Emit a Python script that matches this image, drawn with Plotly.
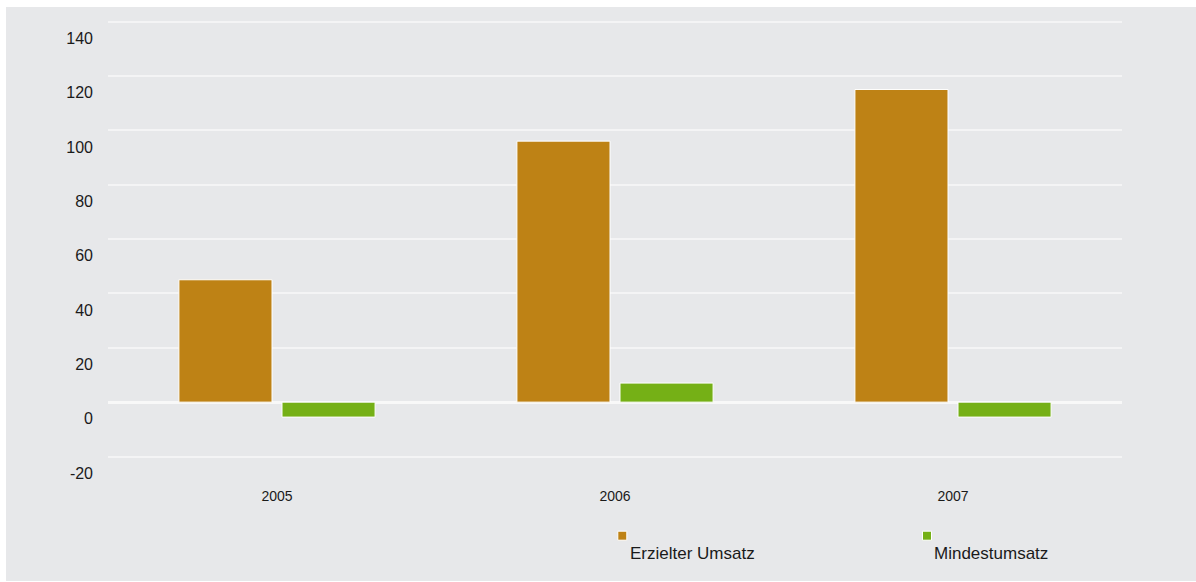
import plotly.graph_objects as go

# Data
years = ["2005", "2006", "2007"]
erzielter_umsatz = [45, 96, 115]
mindestumsatz = [-5.5, 7, -5.5]
series_names = ["Erzielter Umsatz", "Mindestumsatz"]
y_ticks = [-20, 0, 20, 40, 60, 80, 100, 120, 140]

# Styling
W, H = 1196, 582
ML, MR, MT, MB = 108, 74, 16, 100
BG = "#e7e8ea"
ORANGE = "#be8215"
GREEN = "#75b016"
FONT = "Liberation Sans, Arial, sans-serif"

plot_w = W - ML - MR
plot_h = H - MT - MB
px_per_unit = 435 / 160
y_top = 140 + 5.5 / px_per_unit
y_bot = y_top - plot_h / px_per_unit
label_shift = 16.7 / px_per_unit  # value labels sit just below their grid lines


def px_to_paper(px, py):
    return (px - ML) / plot_w, (H - MB - py) / plot_h


fig = go.Figure()
fig.add_trace(go.Bar(x=years, y=erzielter_umsatz, name=series_names[0],
                     marker=dict(color=ORANGE, line=dict(color="white", width=1))))
fig.add_trace(go.Bar(x=years, y=mindestumsatz, name=series_names[1],
                     marker=dict(color=GREEN, line=dict(color="white", width=1))))

# Invisible helper trace so the label axis is drawn
fig.add_trace(go.Scatter(x=[years[0]], y=[0], yaxis="y2", mode="markers",
                         marker=dict(opacity=0), showlegend=False, hoverinfo="skip"))

# Gray panel behind the chart
x0, y0 = px_to_paper(6, 581)
x1, y1 = px_to_paper(1196, 7)
shapes = [dict(type="rect", xref="paper", yref="paper", x0=x0, x1=x1, y0=y0, y1=y1,
               fillcolor=BG, line=dict(width=0), layer="below")]

# Legend: small square marker with the series name underneath
annotations = []
for name, color, (sx, sy), tx in [
    (series_names[0], ORANGE, (622.3, 535.7), 627.5),
    (series_names[1], GREEN, (927, 535.7), 932),
]:
    a0, b0 = px_to_paper(sx - 4.5, sy + 4.5)
    a1, b1 = px_to_paper(sx + 4.5, sy - 4.5)
    shapes.append(dict(type="rect", xref="paper", yref="paper", x0=a0, x1=a1, y0=b0, y1=b1,
                       fillcolor=color, line=dict(color="white", width=1), layer="above"))
    ax, ay = px_to_paper(tx, 553)
    annotations.append(dict(xref="paper", yref="paper", x=ax, y=ay, text=name,
                            showarrow=False, xanchor="left", yanchor="middle",
                            font=dict(family=FONT, size=17, color="#1a1a1a")))

fig.update_layout(
    width=W, height=H,
    margin=dict(l=ML, r=MR, t=MT, b=MB, pad=0),
    paper_bgcolor="white",
    plot_bgcolor="rgba(0,0,0,0)",
    barmode="group",
    bargap=0.39,
    bargroupgap=0.097,
    showlegend=False,
    font=dict(family=FONT, color="#1a1a1a"),
    xaxis=dict(
        type="category",
        showgrid=False, zeroline=False, showline=False,
        ticks="", tickfont=dict(size=14, family=FONT, color="#1a1a1a"),
        ticklabelstandoff=4,
    ),
    yaxis=dict(
        range=[y_bot, y_top],
        tickvals=y_ticks,
        showticklabels=False,
        showgrid=True, gridcolor="#f4f4f5", gridwidth=2,
        zeroline=True, zerolinecolor="#f8f8f8", zerolinewidth=3,
        showline=False, ticks="",
    ),
    yaxis2=dict(
        overlaying="y", side="left",
        range=[y_bot + label_shift, y_top + label_shift],
        tickvals=y_ticks, ticktext=[str(v) for v in y_ticks],
        showgrid=False, zeroline=False, showline=False, ticks="",
        tickfont=dict(size=16, family=FONT, color="#1a1a1a"),
        ticklabelstandoff=14,
    ),
    shapes=shapes,
    annotations=annotations,
)

fig.write_html("out.html")
